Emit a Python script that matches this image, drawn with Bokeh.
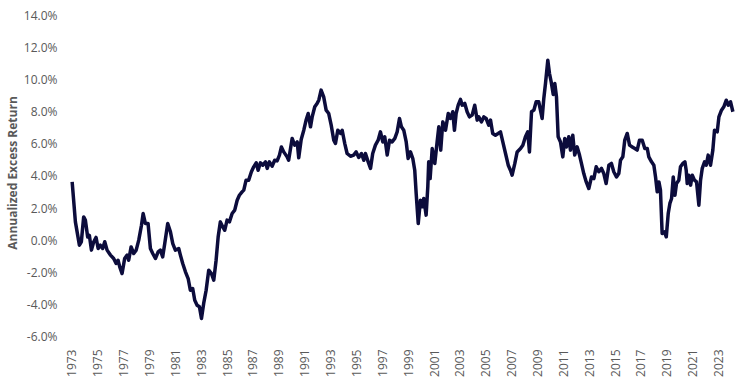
from bokeh.plotting import figure
from bokeh.models import FixedTicker, PrintfTickFormatter, Range1d
from bokeh.embed import file_html
from bokeh.resources import INLINE
import math

# Decimal years and annualized excess return (%)
years = [
    1973.02, 1973.27, 1973.58, 1973.73, 1973.91, 1974.04, 1974.22, 1974.35, 1974.51, 1974.69,
    1974.87, 1975.03, 1975.20, 1975.38, 1975.54, 1975.72, 1975.98, 1976.23, 1976.42, 1976.57,
    1976.70, 1976.88, 1977.08, 1977.27, 1977.39, 1977.58, 1977.78, 1977.97, 1978.17, 1978.38,
    1978.51, 1978.68, 1978.89, 1979.07, 1979.25, 1979.46, 1979.67, 1979.84, 1980.02, 1980.18,
    1980.41, 1980.62, 1980.80, 1981.00, 1981.26, 1981.39, 1981.57, 1981.78, 1981.99, 1982.16,
    1982.34, 1982.50, 1982.68, 1982.86, 1983.02, 1983.19, 1983.38, 1983.58, 1983.79, 1983.97,
    1984.15, 1984.31, 1984.48, 1984.66, 1984.82, 1985.00, 1985.18, 1985.39, 1985.59, 1985.78,
    1985.95, 1986.16, 1986.29, 1986.47, 1986.67, 1986.88, 1987.06, 1987.25, 1987.40, 1987.58,
    1987.76, 1987.97, 1988.10, 1988.27, 1988.48, 1988.68, 1988.87, 1989.05, 1989.20, 1989.38,
    1989.64, 1989.76, 1990.03, 1990.23, 1990.42, 1990.54, 1990.73, 1990.93, 1991.11, 1991.27,
    1991.45, 1991.58, 1991.78, 1991.96, 1992.09, 1992.27, 1992.47, 1992.66, 1992.86, 1993.05,
    1993.25, 1993.38, 1993.56, 1993.77, 1993.90, 1994.10, 1994.28, 1994.54, 1994.79, 1994.98,
    1995.18, 1995.39, 1995.57, 1995.70, 1995.91, 1996.09, 1996.26, 1996.47, 1996.68, 1996.86,
    1997.04, 1997.19, 1997.38, 1997.56, 1997.76, 1997.97, 1998.15, 1998.33, 1998.48, 1998.66,
    1998.85, 1999.00, 1999.18, 1999.36, 1999.51, 1999.62, 1999.78, 1999.95, 2000.08, 2000.21,
    2000.39, 2000.52, 2000.59, 2000.70, 2000.86, 2001.06, 2001.24, 2001.37, 2001.52, 2001.68,
    2001.89, 2002.10, 2002.27, 2002.45, 2002.58, 2002.71, 2002.87, 2003.05, 2003.18, 2003.38,
    2003.56, 2003.74, 2003.95, 2004.15, 2004.34, 2004.46, 2004.67, 2004.85, 2005.03, 2005.23,
    2005.37, 2005.54, 2005.75, 2005.96, 2006.14, 2006.32, 2006.53, 2006.74, 2006.91, 2007.04,
    2007.25, 2007.43, 2007.69, 2007.87, 2008.07, 2008.25, 2008.38, 2008.54, 2008.72, 2008.90,
    2009.10, 2009.23, 2009.36, 2009.49, 2009.62, 2009.80, 2009.93, 2010.06, 2010.22, 2010.34,
    2010.47, 2010.60, 2010.78, 2010.96, 2011.11, 2011.24, 2011.42, 2011.55, 2011.73, 2011.88,
    2012.07, 2012.25, 2012.40, 2012.58, 2012.77, 2012.97, 2013.18, 2013.36, 2013.54, 2013.74,
    2013.95, 2014.13, 2014.31, 2014.52, 2014.72, 2014.90, 2015.11, 2015.29, 2015.42, 2015.60,
    2015.75, 2015.94, 2016.12, 2016.33, 2016.53, 2016.71, 2016.89, 2017.10, 2017.30, 2017.49,
    2017.61, 2017.82, 2018.00, 2018.13, 2018.26, 2018.39, 2018.51, 2018.64, 2018.82, 2018.96,
    2019.11, 2019.24, 2019.37, 2019.50, 2019.63, 2019.75, 2019.93, 2020.06, 2020.24, 2020.40,
    2020.50, 2020.58, 2020.70, 2020.84, 2020.97, 2021.14, 2021.30, 2021.48, 2021.61, 2021.74,
    2021.92, 2022.05, 2022.20, 2022.38, 2022.56, 2022.69, 2022.90, 2023.03, 2023.23, 2023.41,
    2023.60, 2023.75, 2023.93, 2024.11,
]
excess_return = [
    3.63, 1.14, -0.31, -0.10, 1.45, 1.25, 0.20, 0.30, -0.62, -0.10,
    0.17, -0.52, -0.31, -0.52, -0.10, -0.62, -0.93, -1.14, -1.45, -1.25,
    -1.66, -2.08, -1.14, -0.93, -1.25, -0.42, -0.83, -0.62, 0.00, 0.93,
    1.66, 1.04, 1.04, -0.52, -0.83, -1.14, -0.73, -0.62, -1.04, -0.21,
    1.04, 0.52, -0.21, -0.62, -0.52, -0.93, -1.45, -1.97, -2.39, -3.12,
    -3.01, -3.74, -4.05, -4.15, -4.88, -3.94, -3.12, -1.87, -2.08, -2.49,
    -1.25, 0.21, 1.14, 0.83, 0.62, 1.25, 1.14, 1.66, 1.87, 2.49,
    2.80, 3.01, 3.12, 3.74, 3.74, 4.26, 4.57, 4.82, 4.36, 4.82,
    4.67, 4.88, 4.47, 4.88, 4.61, 4.98, 4.94, 5.30, 5.81, 5.50,
    5.19, 4.98, 6.34, 5.92, 6.12, 5.13, 6.27, 6.85, 7.48, 7.89,
    7.06, 7.68, 8.31, 8.52, 8.72, 9.35, 8.93, 8.10, 7.89, 7.17,
    6.23, 6.02, 6.85, 6.65, 6.85, 6.02, 5.40, 5.23, 5.30, 5.50,
    5.15, 5.40, 4.98, 5.40, 4.88, 4.47, 5.40, 5.92, 6.23, 6.75,
    6.12, 6.44, 5.30, 6.23, 6.12, 6.34, 6.75, 7.58, 7.06, 6.85,
    6.12, 5.09, 5.50, 5.09, 4.36, 2.91, 1.04, 2.49, 2.08, 2.60,
    1.56, 3.32, 4.88, 3.84, 5.71, 4.78, 6.12, 7.06, 5.61, 7.37,
    6.85, 7.89, 7.58, 8.00, 6.85, 7.89, 8.41, 8.77, 8.41, 8.52,
    8.00, 7.68, 7.79, 8.41, 7.48, 7.68, 7.37, 7.68, 7.58, 7.17,
    7.48, 6.65, 6.54, 6.65, 6.75, 6.12, 5.40, 4.67, 4.36, 4.05,
    4.78, 5.50, 5.71, 5.92, 6.44, 6.75, 5.50, 8.00, 8.10, 8.62,
    8.62, 8.10, 7.58, 8.83, 9.76, 11.21, 10.38, 9.87, 9.08, 9.76,
    8.93, 6.44, 6.12, 5.19, 6.34, 5.81, 6.44, 5.61, 6.54, 5.30,
    5.81, 5.30, 4.78, 4.15, 3.63, 3.22, 3.94, 3.84, 4.57, 4.26,
    4.47, 4.15, 3.53, 4.67, 4.78, 4.26, 3.94, 4.15, 4.98, 5.19,
    6.23, 6.65, 5.92, 5.81, 5.71, 5.61, 6.23, 6.23, 5.71, 5.71,
    5.19, 4.88, 4.67, 3.94, 3.01, 3.63, 3.12, 0.42, 0.52, 0.21,
    1.66, 2.29, 2.60, 3.94, 2.80, 3.53, 3.74, 4.57, 4.78, 4.88,
    4.36, 3.53, 4.05, 3.43, 4.05, 3.74, 3.63, 2.18, 3.74, 4.47,
    4.88, 4.67, 5.30, 4.67, 5.61, 6.85, 6.75, 7.68, 8.10, 8.31,
    8.72, 8.41, 8.62, 8.00,
]

x_ticks = list(range(1973, 2024, 2))
y_ticks = [-6, -4, -2, 0, 2, 4, 6, 8, 10, 12, 14]

p = figure(
    width=736, height=384,
    output_backend="svg", toolbar_location=None,
    x_range=Range1d(1972.66, 2024.39),
    y_range=Range1d(-6.25, 14.62),
    min_border_left=62, min_border_right=0,
    min_border_top=5, min_border_bottom=44,
)
p.outline_line_color = None
p.xgrid.grid_line_color = None
p.ygrid.grid_line_color = None

p.line(years, excess_return, line_color="#0c0c3c", line_width=3.5, line_join="round")

label_color = "#595959"
font = "Open Sans"

p.xaxis.ticker = FixedTicker(ticks=x_ticks)
p.xaxis.major_label_orientation = math.pi / 2
p.xaxis.axis_line_color = None
p.xaxis.major_tick_line_color = None
p.xaxis.minor_tick_line_color = None
p.xaxis.major_label_text_color = label_color
p.xaxis.major_label_text_font = font
p.xaxis.major_label_text_font_size = "12px"
p.xaxis.major_label_standoff = 3

p.yaxis.ticker = FixedTicker(ticks=y_ticks)
p.yaxis.formatter = PrintfTickFormatter(format="%.1f%%")
p.yaxis.axis_line_color = None
p.yaxis.major_tick_line_color = None
p.yaxis.minor_tick_line_color = None
p.yaxis.major_label_text_color = label_color
p.yaxis.major_label_text_font = font
p.yaxis.major_label_text_font_size = "12px"
p.yaxis.major_label_standoff = 4
p.yaxis.axis_label = "Annualized Excess Return"
p.yaxis.axis_label_text_color = label_color
p.yaxis.axis_label_text_font = font
p.yaxis.axis_label_text_font_style = "bold"
p.yaxis.axis_label_text_font_size = "12px"
p.yaxis.axis_label_standoff = 0

open("out.html", "w").write(file_html(p, INLINE))
